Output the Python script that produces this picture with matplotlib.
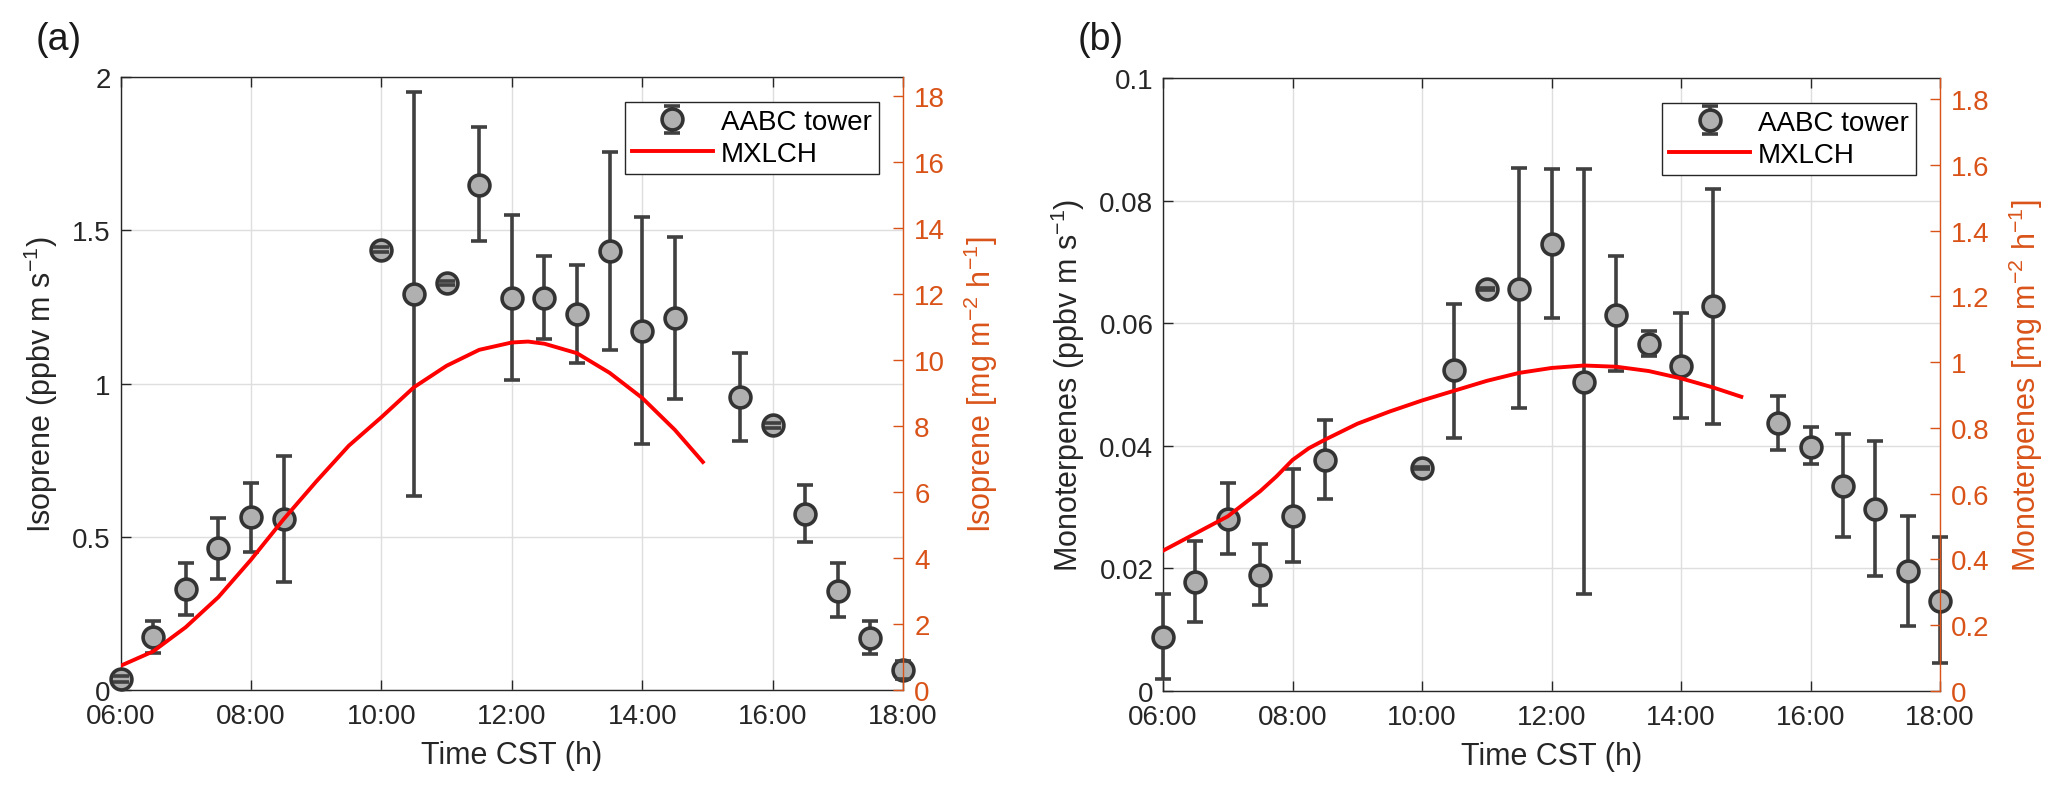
import matplotlib
matplotlib.use("Agg")
import matplotlib.pyplot as plt
from matplotlib.ticker import FuncFormatter

plt.rcParams['font.family'] = ['Liberation Sans', 'DejaVu Sans']
plt.rcParams['mathtext.fontset'] = 'custom'
plt.rcParams['mathtext.rm'] = 'Liberation Sans'
plt.rcParams['mathtext.it'] = 'Liberation Sans:italic'
plt.rcParams['mathtext.bf'] = 'Liberation Sans:bold'

## data (hours CST)
hours = [6.0, 6.5, 7.0, 7.5, 8.0, 8.5, 10.0, 10.5, 11.0, 11.5, 12.0, 12.5,
         13.0, 13.5, 14.0, 14.5, 15.5, 16.0, 16.5, 17.0, 17.5, 18.0]

# (a) isoprene flux, AABC tower
iso = [0.035, 0.174, 0.330, 0.462, 0.563, 0.559, 1.436, 1.291, 1.329, 1.649, 1.279, 1.279,
       1.227, 1.433, 1.171, 1.215, 0.955, 0.864, 0.576, 0.324, 0.169, 0.064]
iso_lo = [0.025, 0.121, 0.245, 0.361, 0.451, 0.352, 1.428, 0.634, 1.322, 1.464, 1.012, 1.144,
          1.067, 1.110, 0.802, 0.951, 0.814, 0.856, 0.484, 0.238, 0.116, 0.035]
iso_hi = [0.045, 0.226, 0.416, 0.562, 0.677, 0.765, 1.444, 1.950, 1.336, 1.837, 1.549, 1.416,
          1.387, 1.756, 1.544, 1.478, 1.100, 0.872, 0.670, 0.415, 0.225, 0.095]

# (a) MXLCH model
t_mx_a = [6.0, 6.5, 7.0, 7.5, 8.0, 8.5, 9.0, 9.5, 10.0, 10.5, 11.0, 11.5, 12.0, 12.25,
          12.5, 13.0, 13.5, 14.0, 14.5, 14.93]
mx_a = [0.079, 0.126, 0.205, 0.303, 0.425, 0.557, 0.680, 0.797, 0.890, 0.988, 1.058, 1.110,
        1.134, 1.137, 1.130, 1.099, 1.035, 0.953, 0.849, 0.744]

# (b) monoterpene flux, AABC tower
mono = [0.0088, 0.0178, 0.0281, 0.0190, 0.0286, 0.0377, 0.0364, 0.0523, 0.0656, 0.0656, 0.0729, 0.0504,
        0.0614, 0.0566, 0.0530, 0.0628, 0.0437, 0.0398, 0.0335, 0.0297, 0.0196, 0.0147]
mono_lo = [0.0020, 0.0112, 0.0223, 0.0140, 0.0211, 0.0313, 0.0362, 0.0413, 0.0654, 0.0462, 0.0609, 0.0158,
           0.0522, 0.0547, 0.0445, 0.0436, 0.0393, 0.0370, 0.0251, 0.0187, 0.0106, 0.0046]
mono_hi = [0.0158, 0.0245, 0.0340, 0.0240, 0.0362, 0.0442, 0.0366, 0.0632, 0.0658, 0.0854, 0.0851, 0.0851,
           0.0709, 0.0587, 0.0617, 0.0819, 0.0481, 0.0430, 0.0420, 0.0408, 0.0285, 0.0252]

# (b) MXLCH model
t_mx_b = [6.0, 6.5, 7.0, 7.5, 7.75, 8.0, 8.25, 8.5, 9.0, 9.5, 10.0, 10.5, 11.0, 11.5, 12.0,
          12.5, 13.0, 13.5, 14.0, 14.5, 14.93]
mx_b = [0.0229, 0.0257, 0.0285, 0.0326, 0.0350, 0.0377, 0.0396, 0.0410, 0.0436, 0.0456, 0.0474,
        0.0490, 0.0506, 0.0519, 0.0527, 0.0531, 0.0529, 0.0522, 0.0510, 0.0495, 0.0480]

time_ticks = [6, 8, 10, 12, 14, 16, 18]
time_labels = ["06:00", "08:00", "10:00", "12:00", "14:00", "16:00", "18:00"]

ORANGE = "#D95319"
DARK = "#404040"
GRIDC = "#dedede"


def g_fmt(v, pos):
    return "%g" % round(v, 6)


def panel(rect, letter, y, lo, hi, t_mx, mx, ylim, yticks, ylab, ylim_r, yticks_r, ylab_r):
    ax = fig.add_axes(rect)
    yerr = [[y[i] - lo[i] for i in range(len(y))], [hi[i] - y[i] for i in range(len(y))]]
    eb = ax.errorbar(hours, y, yerr=yerr, fmt='o', color=DARK, ecolor=DARK,
                     mfc='#b0b0b0', mec='#333333', mew=2.6, ms=15,
                     elinewidth=2.6, capsize=6, capthick=2.4,
                     label='AABC tower', zorder=3)
    line, caps, bars = eb
    line.set_clip_on(False)
    for c in caps:
        c.set_zorder(4)
        c.set_clip_on(False)
    for b in bars:
        b.set_clip_on(False)
    red, = ax.plot(t_mx, mx, color='red', lw=2.8, label='MXLCH', zorder=5)

    ax.set_xlim(6, 18)
    ax.set_ylim(*ylim)
    ax.set_xticks(time_ticks)
    ax.set_xticklabels(time_labels)
    ax.set_yticks(yticks)
    ax.yaxis.set_major_formatter(FuncFormatter(g_fmt))
    ax.grid(True, color=GRIDC, lw=1.0)
    ax.set_axisbelow(True)
    ax.tick_params(direction='in', top=True, right=False, length=7, width=1.0,
                   labelsize=20, colors='#262626')
    ax.tick_params(axis='x', pad=9)
    ax.tick_params(axis='y', pad=7)
    for s in ['left', 'bottom', 'top']:
        ax.spines[s].set_color('#262626')
        ax.spines[s].set_linewidth(1.0)
    ax.spines['right'].set_visible(False)
    ax.set_xlabel("Time CST (h)", fontsize=22, color='#262626', labelpad=8)
    ax.set_ylabel(ylab, fontsize=22, color='#262626', labelpad=9)

    leg = ax.legend([eb, red], ['AABC tower', 'MXLCH'], loc='upper right',
                    bbox_to_anchor=(0.969, 0.959), borderaxespad=0,
                    fontsize=20, frameon=True, fancybox=False, edgecolor='#262626',
                    framealpha=1, handlelength=2.9, handletextpad=0.3,
                    labelspacing=0.2, borderpad=0.25)
    leg.get_frame().set_linewidth(1.0)

    ## right axis in mg m-2 h-1
    ax2 = ax.twinx()
    ax2.set_ylim(*ylim_r)
    ax2.set_yticks(yticks_r)
    ax2.yaxis.set_major_formatter(FuncFormatter(g_fmt))
    ax2.tick_params(direction='in', length=7, width=1.0, labelsize=20, colors=ORANGE, pad=8)
    ax2.spines['right'].set_color(ORANGE)
    ax2.spines['right'].set_linewidth(1.0)
    for s in ['left', 'bottom', 'top']:
        ax2.spines[s].set_visible(False)
    ax2.set_ylabel(ylab_r, fontsize=22, color=ORANGE, labelpad=12)

    fig.text(rect[0] - 0.03, 0.95, letter, fontsize=27, ha='center', va='center', color='#1a1a1a')
    return ax


fig = plt.figure(figsize=(20.67, 8.04), dpi=100)

panel([0.0583, 0.1405, 0.3786, 0.7624], "(a)", iso, iso_lo, iso_hi, t_mx_a, mx_a,
      (0, 2), [0, 0.5, 1, 1.5, 2], "Isoprene (ppbv m s$^{-1}$)",
      (0, 18.56), list(range(0, 19, 2)), "Isoprene [mg m$^{-2}$ h$^{-1}$]")

panel([0.5627, 0.1393, 0.3759, 0.7624], "(b)", mono, mono_lo, mono_hi, t_mx_b, mx_b,
      (0, 0.1), [0, 0.02, 0.04, 0.06, 0.08, 0.1], "Monoterpenes (ppbv m s$^{-1}$)",
      (0, 1.864), [0, 0.2, 0.4, 0.6, 0.8, 1.0, 1.2, 1.4, 1.6, 1.8], "Monoterpenes [mg m$^{-2}$ h$^{-1}$]")

fig.savefig("out.png", dpi=100)
